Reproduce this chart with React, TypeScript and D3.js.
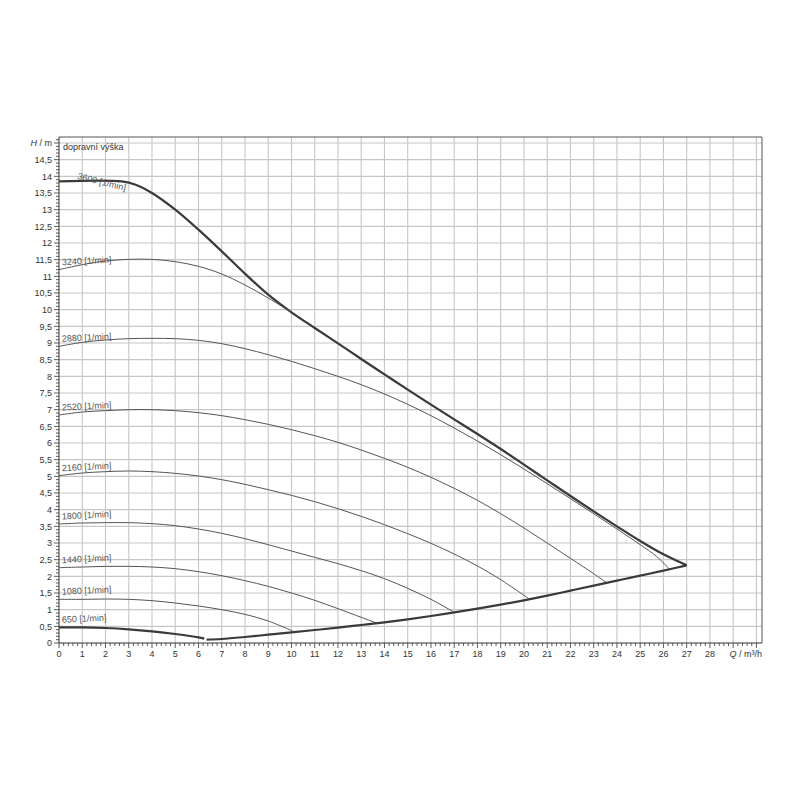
import React from "react";
import * as d3 from "d3";

// ---- data (Q in m³/h, H in m) ----
const xTickLabels = d3.range(0, 29); // 0..28
const yTickValues = d3.range(0, 15, 0.5); // 0..14.5

const curve3600: [number, number][] = [
  [0, 13.85], [2.7, 13.85], [3.3, 13.75], [4, 13.5], [5, 13.0], [6, 12.4],
  [7, 11.75], [8, 11.08], [9, 10.45], [10, 9.92], [11, 9.45], [12, 8.99], [13, 8.52],
  [14, 8.06], [15, 7.6], [16, 7.15], [17, 6.71], [18, 6.27], [19, 5.82], [20, 5.35],
  [21, 4.88], [22, 4.41], [23, 3.95], [24, 3.5], [25, 3.06], [26, 2.66], [27, 2.33],
];
const curve3240: [number, number][] = [
  [0, 11.2], [1, 11.35], [2, 11.46], [3, 11.51], [4, 11.51], [5, 11.44], [6, 11.3],
  [7, 11.07], [8, 10.74], [9, 10.35], [10, 9.92],
];
const curve2880: [number, number][] = [
  [0, 8.9], [1, 9.02], [2, 9.09], [3, 9.13], [4, 9.14], [5, 9.13], [6, 9.08], [7, 8.98],
  [8, 8.83], [9, 8.65], [10, 8.45], [11, 8.23], [12, 8.0], [13, 7.75], [14, 7.47],
  [15, 7.16], [16, 6.82], [17, 6.45], [18, 6.06], [19, 5.65], [20, 5.22], [21, 4.78],
  [22, 4.33], [23, 3.88], [24, 3.42], [25, 2.95], [25.7, 2.6], [26.25, 2.22],
];
const curve2520: [number, number][] = [
  [0, 6.84], [1, 6.93], [2, 6.97], [3, 7.0], [4, 7.0], [5, 6.97], [6, 6.91], [7, 6.82],
  [8, 6.7], [9, 6.56], [10, 6.4], [11, 6.22], [12, 6.02], [13, 5.79], [14, 5.54],
  [15, 5.27], [16, 4.97], [17, 4.64], [18, 4.28], [19, 3.88], [20, 3.45], [21, 3.0],
  [22, 2.54], [23, 2.08], [23.55, 1.81],
];
const curve2160: [number, number][] = [
  [0, 5.02], [1, 5.1], [2, 5.14], [3, 5.16], [4, 5.14], [5, 5.09], [6, 5.01], [7, 4.9],
  [8, 4.76], [9, 4.6], [10, 4.43], [11, 4.24], [12, 4.03], [13, 3.8], [14, 3.55],
  [15, 3.28], [16, 2.99], [17, 2.67], [18, 2.31], [19, 1.9], [20.25, 1.31],
];
const curve1800: [number, number][] = [
  [0, 3.57], [1, 3.6], [2, 3.61], [3, 3.61], [4, 3.58], [5, 3.52], [6, 3.42], [7, 3.29],
  [8, 3.13], [9, 2.95], [10, 2.76], [11, 2.57], [12, 2.38], [13, 2.17], [14, 1.93],
  [15, 1.64], [16, 1.31], [16.96, 0.94],
];
const curve1440: [number, number][] = [
  [0, 2.26], [1, 2.28], [2, 2.3], [3, 2.3], [4, 2.28], [5, 2.23], [6, 2.14], [7, 2.02],
  [8, 1.87], [9, 1.7], [10, 1.5], [11, 1.28], [12, 1.03], [13, 0.77], [13.66, 0.6],
];
const curve1080: [number, number][] = [
  [0, 1.31], [1, 1.31], [2, 1.32], [3, 1.31], [4, 1.27], [5, 1.2], [6, 1.11], [7, 1.0],
  [8, 0.86], [9, 0.66], [10.08, 0.35],
];
const curve650: [number, number][] = [
  [0, 0.47], [1, 0.47], [2, 0.45], [3, 0.41], [4, 0.35], [5, 0.27], [6, 0.17], [6.25, 0.13],
];
const curveMin: [number, number][] = [
  [6.35, 0.1], [7, 0.12], [8, 0.18], [9, 0.25], [10, 0.32], [11, 0.39], [12, 0.46],
  [13, 0.54], [14, 0.62], [15, 0.71], [16, 0.81], [17, 0.92], [18, 1.03], [19, 1.15],
  [20, 1.28], [21, 1.42], [22, 1.57], [23, 1.72], [24, 1.87], [25, 2.02], [26, 2.17],
  [27, 2.33],
];

const speedLabels = ["3600", "3240", "2880", "2520", "2160", "1800", "1440", "1080", "650"];
const speedCurves = [curve3600, curve3240, curve2880, curve2520, curve2160, curve1800, curve1440, curve1080, curve650];
const thickCurves = [curve3600, curve650, curveMin];

export default function App() {
  const left = 59, right = 762, top = 137, bottom = 643;
  const x = d3.scaleLinear().domain([0, 30.24]).range([left, right]);
  const y = d3.scaleLinear().domain([0, 15.18]).range([bottom, top]);
  const line = d3
    .line<[number, number]>()
    .x((d) => x(d[0]))
    .y((d) => y(d[1]))
    .curve(d3.curveCatmullRom.alpha(0.5));

  const vGrid = d3.range(1, 31);
  const hGrid = d3.range(0.5, 15.01, 0.5);
  const xMinor = d3.range(0, 30.2, 0.2);
  const yMinor = d3.range(0, 15.15, 0.1);
  const font = "Arial, 'Liberation Sans', sans-serif";
  const fmt = (v: number) => String(v).replace(".", ",");

  return (
    <svg
      width={800}
      height={800}
      style={{ position: "absolute", left: 0, top: 0, background: "#fff" }}
      fontFamily={font}
    >
      <rect x={0} y={0} width={800} height={800} fill="#fff" />
      {/* grid */}
      {vGrid.map((v) => (
        <line key={"v" + v} x1={x(v)} x2={x(v)} y1={top} y2={bottom} stroke="#c6c6c6" strokeWidth={1.1} />
      ))}
      {hGrid.map((v) => (
        <line key={"h" + v} x1={left} x2={right} y1={y(v)} y2={y(v)} stroke="#c6c6c6" strokeWidth={1.1} />
      ))}
      {/* frame */}
      <line x1={left} x2={right} y1={top} y2={top} stroke="#555" strokeWidth={1} />
      <line x1={right} x2={right} y1={top} y2={bottom} stroke="#555" strokeWidth={1} />
      <line x1={left} x2={right} y1={bottom} y2={bottom} stroke="#333" strokeWidth={1} />
      <line x1={left} x2={left} y1={top} y2={bottom} stroke="#333" strokeWidth={1} />
      {/* ticks */}
      {xMinor.map((v, i) => (
        <line
          key={"xt" + i}
          x1={x(v)}
          x2={x(v)}
          y1={bottom}
          y2={bottom + (i % 5 === 0 ? 5 : 3)}
          stroke="#333"
          strokeWidth={0.8}
        />
      ))}
      {yMinor.map((v, i) => (
        <line
          key={"yt" + i}
          x1={left}
          x2={left - (i % 5 === 0 ? 5 : 3)}
          y1={y(v)}
          y2={y(v)}
          stroke="#333"
          strokeWidth={0.8}
        />
      ))}
      {/* tick labels */}
      {xTickLabels.map((v) => (
        <text key={"xl" + v} x={x(v)} y={657} fontSize={9} fill="#333" textAnchor="middle">
          {v}
        </text>
      ))}
      <text x={right} y={657} fontSize={9} fill="#333" textAnchor="end">
        <tspan fontStyle="italic">Q</tspan> / m³/h
      </text>
      {yTickValues.map((v) => (
        <text key={"yl" + v} x={52} y={y(v) + 3.2} fontSize={9} fill="#333" textAnchor="end">
          {fmt(v)}
        </text>
      ))}
      <text x={52} y={y(15) + 3.2} fontSize={9} fill="#333" textAnchor="end">
        <tspan fontStyle="italic">H</tspan> / m
      </text>
      <text x={63} y={150} fontSize={9} fill="#333">
        dopravní výška
      </text>
      {/* curves */}
      {speedCurves.map((c, i) => (
        <path
          key={"c" + i}
          d={line(c) || ""}
          fill="none"
          stroke={thickCurves.includes(c) ? "#3a3a3a" : "#555"}
          strokeWidth={thickCurves.includes(c) ? 2.2 : 1}
        />
      ))}
      <path d={line(curveMin) || ""} fill="none" stroke="#3a3a3a" strokeWidth={2.2} />
      {/* speed labels */}
      {speedLabels.map((s, i) => {
        const c = speedCurves[i];
        const lx = i === 0 ? 77 : 62;
        const ly = i === 0 ? y(c[0][1]) - 2.5 : y(c[0][1]) - 4.5;
        const rot = i === 0 ? 14 : -3;
        return (
          <text
            key={"sl" + s}
            x={lx}
            y={ly}
            fontSize={9}
            fill="#555"
            transform={`rotate(${rot},${lx},${ly})`}
          >
            {s} [1/min]
          </text>
        );
      })}
    </svg>
  );
}
